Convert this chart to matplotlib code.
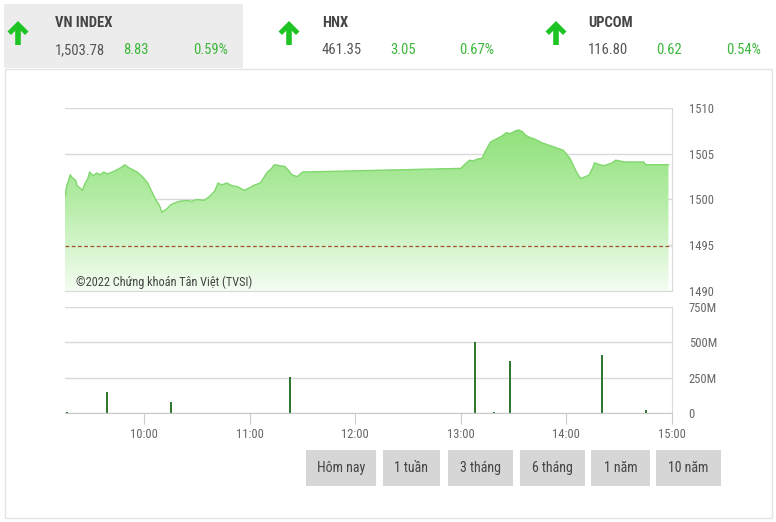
import numpy as np
import matplotlib.pyplot as plt
from matplotlib.colors import LinearSegmentedColormap
from matplotlib.patches import Rectangle, Polygon

plt.rcParams['font.family'] = ['Roboto Condensed', 'Liberation Sans Narrow', 'Roboto', 'DejaVu Sans']

# header quotes
idx_names = ['VN INDEX', 'HNX', 'UPCOM']
idx_values = ['1,503.78', '461.35', '116.80']
idx_changes = ['8.83', '3.05', '0.62']
idx_pcts = ['0.59%', '0.67%', '0.54%']

ref_close = 1494.95

# intraday VN-Index
price_times = ['09:15', '09:16', '09:18', '09:19', '09:21', '09:22', '09:25', '09:26', '09:28', '09:29',
               '09:31', '09:33', '09:35', '09:37', '09:39', '09:42', '09:44', '09:47', '09:49', '09:51',
               '09:54', '09:56', '09:59', '10:02', '10:04', '10:06', '10:09', '10:10', '10:13', '10:15',
               '10:17', '10:20', '10:24', '10:27', '10:30', '10:34', '10:37', '10:40', '10:42', '10:44',
               '10:47', '10:50', '10:53', '10:55', '10:57', '11:00', '11:03', '11:06', '11:08', '11:10',
               '11:12', '11:14', '11:17', '11:20', '11:22', '11:24', '11:27', '11:30',
               '13:00', '13:02', '13:05', '13:07', '13:09', '13:12', '13:14', '13:16', '13:17', '13:20',
               '13:23', '13:26', '13:28', '13:31', '13:33', '13:35', '13:37', '13:39', '13:42', '13:45',
               '13:46', '13:49', '13:52', '13:55', '13:58', '13:59', '14:02', '14:04', '14:06', '14:08',
               '14:11', '14:13', '14:15', '14:16', '14:19', '14:21', '14:23', '14:26', '14:28', '14:33',
               '14:39', '14:44', '14:45', '14:58']
price_values = [1500.3, 1501.5, 1502.7, 1502.4, 1502.1, 1501.5, 1501.0, 1501.6, 1502.3, 1503.0,
                1502.6, 1502.9, 1502.7, 1503.0, 1502.8, 1503.0, 1503.2, 1503.5, 1503.8, 1503.5,
                1503.2, 1503.0, 1502.5, 1501.8, 1501.0, 1500.2, 1499.2, 1498.6, 1499.0, 1499.4,
                1499.6, 1499.8, 1499.9, 1499.8, 1500.0, 1499.9, 1500.3, 1500.9, 1501.8, 1501.6,
                1501.8, 1501.5, 1501.4, 1501.2, 1501.0, 1501.3, 1501.6, 1501.8, 1502.4, 1503.0,
                1503.3, 1503.8, 1503.7, 1503.6, 1503.2, 1502.7, 1502.5, 1503.0,
                1503.4, 1503.8, 1504.3, 1504.2, 1504.4, 1504.5, 1505.3, 1506.0, 1506.3, 1506.6,
                1506.9, 1507.3, 1507.2, 1507.5, 1507.6, 1507.4, 1507.0, 1506.8, 1506.6, 1506.3,
                1506.2, 1506.0, 1505.8, 1505.6, 1505.4, 1505.2, 1504.5, 1503.7, 1502.9, 1502.3,
                1502.5, 1502.7, 1503.5, 1504.0, 1503.8, 1503.7, 1503.8, 1504.0, 1504.3, 1504.1,
                1504.1, 1504.1, 1503.8, 1503.8]

# matched volume, millions
vol_times = ['09:16', '09:39', '10:15', '11:23', '13:01', '13:08', '13:19', '13:28', '14:20', '14:45']
vol_values = [5, 151, 81, 257, 3, 502, 5, 369, 409, 23]

x_labels = ['10:00', '11:00', '12:00', '13:00', '14:00', '15:00']
price_ticks = [1490, 1495, 1500, 1505, 1510]
vol_ticks = [0, 250, 500, 750]
vol_labels = ['0', '250M', '500M', '750M']
buttons = ['Hôm nay', '1 tuần', '3 tháng', '6 tháng', '1 năm', '10 năm']


def to_min(s):
    h, m = s.split(':')
    return int(h) * 60 + int(m)


W, H = 776, 522


def rect(l, t, r, b):
    return [l / W, 1 - b / H, (r - l) / W, (b - t) / H]


fig = plt.figure(figsize=(W / 100, H / 100), dpi=100)

# --- background / header / buttons in pixel coords ---
bg = fig.add_axes([0, 0, 1, 1], zorder=0)
bg.set_xlim(0, W)
bg.set_ylim(H, 0)
bg.axis('off')

bg.add_patch(Rectangle((4.5, 68.5), 767, 449, fill=False, ec='#e4e4e4', lw=1))
bg.add_patch(Rectangle((4, 4), 239, 64, fc='#ececec', ec='none'))

green = '#3cb63a'
name_x = [55, 322, 588]
arrow_x = [18, 289, 556]
pct_right = [228, 494, 761]
for i in range(3):
    cx = arrow_x[i]
    pts = [(cx, 21), (cx + 10.5, 31.5), (cx + 7, 35), (cx + 2.8, 30.8), (cx + 2.8, 45),
           (cx - 2.8, 45), (cx - 2.8, 30.8), (cx - 7, 35), (cx - 10.5, 31.5)]
    bg.add_patch(Polygon(pts, closed=True, fc='#1ec423', ec='none'))
    bg.text(name_x[i], 23, idx_names[i], fontsize=10.5, fontweight='bold', color='#444444', va='center')
    bg.text(name_x[i], 50, idx_values[i], fontsize=10.5, color='#555555', va='center')
    bg.text(name_x[i] + 68, 50, idx_changes[i], fontsize=10.5, color=green, va='center')
    bg.text(pct_right[i], 50, idx_pcts[i], fontsize=10.5, color=green, va='center', ha='right')

btn_x = [(306, 376), (383, 440), (448, 513), (520, 585), (591, 650), (656, 721)]
for (l, r), lab in zip(btn_x, buttons):
    bg.add_patch(Rectangle((l, 450), r - l, 36, fc='#d6d6d6', ec='none'))
    bg.text((l + r) / 2, 468, lab, fontsize=10, color='#444444', ha='center', va='center')

grid_c = '#d9d9d9'
lab_c = '#666666'

# --- price chart ---
pm = np.array([to_min(t) for t in price_times])
pv = np.array(price_values)
x0, x1 = to_min('09:15'), to_min('15:00')

ax1 = fig.add_axes(rect(65, 108, 672, 291), zorder=1)
ax1.patch.set_alpha(0)
cmap = LinearSegmentedColormap.from_list('g', ['#f4fdf2', '#b4eca5', '#86de70'])
grad = np.linspace(0, 1, 256).reshape(-1, 1)
poly = ax1.fill_between(pm, pv, 1490, color='none', lw=0)
im = ax1.imshow(grad, extent=[x0, x1, 1490, 1510], origin='lower', aspect='auto', cmap=cmap, zorder=1)
im.set_clip_path(poly.get_paths()[0], transform=ax1.transData)
ax1.plot(pm, pv, color='#7fd86c', lw=1, zorder=2)
ax1.axhline(ref_close, color='#a0522d', lw=0.9, ls=(0, (3, 2)), zorder=3)

ax1.set_xlim(x0, x1)
ax1.set_ylim(1490, 1510)
ax1.set_yticks(price_ticks)
ax1.yaxis.tick_right()
ax1.set_xticks([])
ax1.grid(axis='y', color=grid_c, lw=1)
ax1.set_axisbelow(True)
for s in ['left', 'top']:
    ax1.spines[s].set_visible(False)
ax1.spines['right'].set_color(grid_c)
ax1.spines['bottom'].set_color(grid_c)
ax1.tick_params(axis='y', length=0, pad=12, labelsize=9, labelcolor=lab_c)
ax1.text(0.018, 0.045, '©2022 Chứng khoán Tân Việt (TVSI)', transform=ax1.transAxes,
         fontsize=8.8, color='#444444', va='center')

# --- volume chart ---
ax2 = fig.add_axes(rect(65, 307, 672, 413), zorder=1)
ax2.patch.set_alpha(0)
vm = [to_min(t) for t in vol_times]
ax2.vlines(vm, 0, vol_values, color='#1b6b1b', lw=1.3, zorder=2)
ax2.set_xlim(x0, x1)
ax2.set_ylim(0, 750)
ax2.set_yticks(vol_ticks)
ax2.set_yticklabels(vol_labels)
ax2.yaxis.tick_right()
ax2.set_xticks([to_min(t) for t in x_labels])
ax2.set_xticklabels(x_labels)
ax2.grid(axis='y', color=grid_c, lw=1)
ax2.set_axisbelow(True)
ax2.spines['left'].set_visible(False)
ax2.spines['top'].set_visible(False)
ax2.spines['right'].set_color(grid_c)
ax2.spines['bottom'].set_color('#c8c8c8')
ax2.tick_params(axis='y', length=0, pad=12, labelsize=9, labelcolor=lab_c)
ax2.tick_params(axis='x', length=8, color='#cccccc', pad=3, labelsize=9, labelcolor=lab_c)

fig.savefig('out.png', dpi=100)
